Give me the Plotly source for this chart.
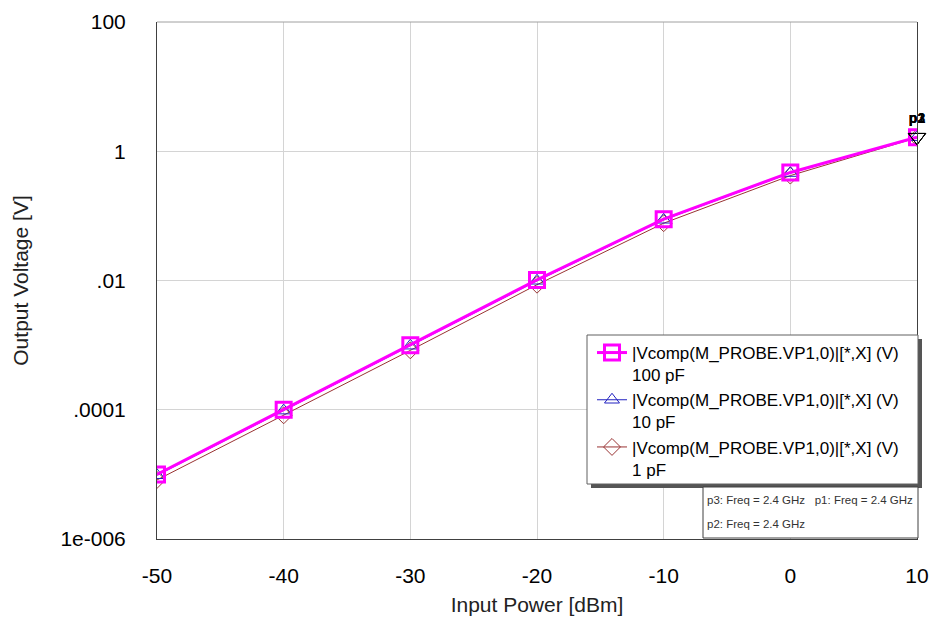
import plotly.graph_objects as go

# ---- data ----
input_power_dbm = [-50, -40, -30, -20, -10, 0, 10]
v_100pF = [1.0e-5, 1.0e-4, 1.0e-3, 1.02e-2, 8.9e-2, 0.47, 1.65]
v_10pF = [0.97e-5, 0.97e-4, 0.98e-3, 0.99e-2, 8.7e-2, 0.46, 1.65]
v_1pF = [0.82e-5, 0.82e-4, 0.83e-3, 0.86e-2, 0.077, 0.42, 1.62]

x_ticks = [-50, -40, -30, -20, -10, 0, 10]
x_ticktext = ["-50", "-40", "-30", "-20", "-10", "0", "10"]
y_tickvals = [1e-6, 1e-4, 1e-2, 1, 100]
y_ticktext = ["1e-006", ".0001", ".01", "1", "100"]

trace_label = "|Vcomp(M_PROBE.VP1,0)|[*,X] (V)"
marker_info = ["p3: Freq = 2.4 GHz", "p1: Freq = 2.4 GHz", "p2: Freq = 2.4 GHz"]

FONT = "Arial, Liberation Sans, sans-serif"
W, H = 932, 621
ML, MR, MT, MB = 157, 15, 22, 82
PW, PH = W - ML - MR, H - MT - MB


def px2paper_x(px):
    return (px - ML) / PW


def px2paper_y(py):
    return (H - MB - py) / PH


fig = go.Figure()

fig.add_trace(go.Scatter(
    x=input_power_dbm, y=v_1pF, mode="lines+markers",
    name=trace_label + "<br>1 pF", legendrank=3,
    line=dict(color="#993333", width=1),
    marker=dict(symbol="diamond-open", size=13, color="#993333", line=dict(width=1)),
))
fig.add_trace(go.Scatter(
    x=input_power_dbm, y=v_10pF, mode="lines+markers",
    name=trace_label + "<br>10 pF", legendrank=2,
    line=dict(color="#2020C0", width=1),
    marker=dict(symbol="triangle-up-open", size=13, color="#2020C0", line=dict(width=1)),
))
fig.add_trace(go.Scatter(
    x=input_power_dbm, y=v_100pF, mode="lines+markers",
    name=trace_label + "<br>100 pF", legendrank=1,
    line=dict(color="#FF00FF", width=3),
    marker=dict(symbol="square-open", size=15, color="#FF00FF", line=dict(width=3)),
))

# marker flags p1, p2, p3 at the last point
for name, val in zip(["p3", "p1", "p2"], [v_100pF[-1], v_100pF[-1], v_10pF[-1]]):
    fig.add_trace(go.Scatter(
        x=[input_power_dbm[-1]], y=[val], mode="markers+text",
        text=["<b>" + name + "</b>"], textposition="top center",
        textfont=dict(family=FONT, size=14, color="black"),
        marker=dict(symbol="triangle-down-open", size=15, color="black", line=dict(width=1)),
        showlegend=False, cliponaxis=False, hoverinfo="skip",
    ))

shapes = []
# top border (grey)
shapes.append(dict(type="line", xref="paper", yref="paper", x0=0, x1=1, y0=1, y1=1,
                   line=dict(color="#a0a0a0", width=1), layer="above"))
# legend shadow + box
lx0, lx1, ly0, ly1 = 587, 918, 335, 484
shapes.append(dict(type="rect", xref="paper", yref="paper",
                   x0=px2paper_x(lx0 + 4), x1=px2paper_x(lx1 + 4),
                   y0=px2paper_y(ly1 + 4), y1=px2paper_y(ly0 + 4),
                   fillcolor="#555555", line=dict(width=0), layer="above"))
shapes.append(dict(type="rect", xref="paper", yref="paper",
                   x0=px2paper_x(lx0), x1=px2paper_x(lx1),
                   y0=px2paper_y(ly1), y1=px2paper_y(ly0),
                   fillcolor="white", line=dict(color="#606060", width=1), layer="above"))
# marker info box
bx0, bx1, by0, by1 = 703, 918, 487, 538
shapes.append(dict(type="rect", xref="paper", yref="paper",
                   x0=px2paper_x(bx0), x1=px2paper_x(bx1),
                   y0=px2paper_y(by1), y1=px2paper_y(by0),
                   fillcolor="white", line=dict(color="#404040", width=1), layer="above"))

annotations = [
    dict(xref="paper", yref="paper", x=px2paper_x(705), y=px2paper_y(500),
         xanchor="left", yanchor="middle", showarrow=False,
         text=marker_info[0] + "&nbsp;&nbsp;&nbsp;" + marker_info[1],
         font=dict(family=FONT, size=11.5, color="#333333")),
    dict(xref="paper", yref="paper", x=px2paper_x(705), y=px2paper_y(524),
         xanchor="left", yanchor="middle", showarrow=False,
         text=marker_info[2],
         font=dict(family=FONT, size=11.5, color="#333333")),
]

fig.update_layout(
    width=W, height=H,
    margin=dict(l=ML, r=MR, t=MT, b=MB, autoexpand=False),
    paper_bgcolor="white", plot_bgcolor="white",
    font=dict(family=FONT, color="black"),
    shapes=shapes, annotations=annotations,
    showlegend=True,
    legend=dict(
        x=px2paper_x(lx0 + 5), y=px2paper_y(ly0), xanchor="left", yanchor="top",
        bgcolor="rgba(0,0,0,0)", borderwidth=0,
        font=dict(family=FONT, size=17, color="black"),
        valign="top", tracegroupgap=10,
    ),
    xaxis=dict(
        range=[-50, 10], tickvals=x_ticks, ticktext=x_ticktext,
        showgrid=True, gridcolor="#d4d4d4", gridwidth=1,
        showline=True, linecolor="#404040", linewidth=1, mirror=False,
        zeroline=False, ticks="", ticklabelstandoff=18,
        tickfont=dict(family=FONT, size=21, color="black"),
        title=dict(text="Input Power [dBm]", font=dict(family=FONT, size=21, color="#222222"), standoff=11),
    ),
    yaxis=dict(
        type="log", range=[-6, 2], tickvals=y_tickvals, ticktext=y_ticktext,
        showgrid=True, gridcolor="#d4d4d4", gridwidth=1,
        showline=True, linecolor="#404040", linewidth=1, mirror=True,
        zeroline=False, ticks="", ticklabelstandoff=26,
        tickfont=dict(family=FONT, size=21, color="black"),
        title=dict(text="Output Voltage [V]", font=dict(family=FONT, size=21, color="#222222"), standoff=26),
    ),
)

fig.write_html("out.html")
